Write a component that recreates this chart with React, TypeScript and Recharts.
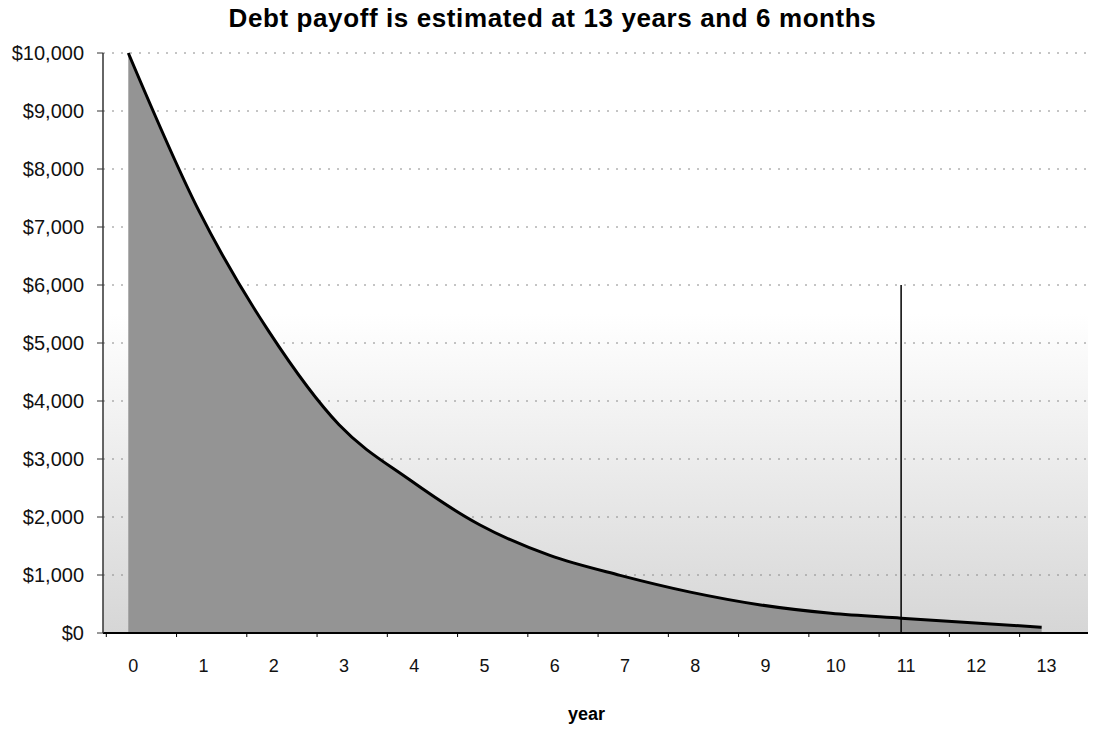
import { AreaChart, Area, XAxis, YAxis, CartesianGrid, ReferenceLine } from 'recharts'

const years = [0, 1, 2, 3, 4, 5, 6, 7, 8, 9, 10, 11, 12, 13]
const balances = [10000, 7290, 5200, 3590, 2645, 1866, 1337, 994, 705, 484, 340, 255, 175, 100]
const yTicks = [0, 1000, 2000, 3000, 4000, 5000, 6000, 7000, 8000, 9000, 10000]
const markerYear = 11
const markerTop = 6000

const data = years.map((year, i) => ({ year, balance: balances[i] }))

const font = '"Liberation Sans", Arial, sans-serif'

function YearTick({ x, y, payload }: any) {
  return (
    <g>
      <line x1={x - 22} x2={x - 22} y1={y} y2={y + 4} stroke="#000" strokeWidth={1} />
      <text x={x + 5} y={y + 39} textAnchor="middle" fontSize={18} fontFamily={font} fill="#111">
        {payload.value}
      </text>
    </g>
  )
}

const money = (v: number) => '$' + v.toLocaleString('en-US')

export default function App() {
  return (
    <div style={{ position: 'relative', width: 1089, height: 722 }}>
      <div
        style={{
          position: 'absolute',
          top: -3,
          left: 0,
          width: 1089,
          textAlign: 'center',
          fontFamily: font,
          fontWeight: 'bold',
          fontSize: 26,
          letterSpacing: 0.6,
          lineHeight: '26px',
          color: '#000',
        }}
      >
        Debt payoff is estimated at 13 years and 6 months
      </div>
      <AreaChart width={1089} height={722} data={data} margin={{ top: 45, right: 9, left: 0, bottom: 37 }}>
        <defs>
          <linearGradient id="plotBg" x1="0" y1="0" x2="0" y2="1">
            <stop offset="0%" stopColor="#ffffff" />
            <stop offset="45%" stopColor="#ffffff" />
            <stop offset="100%" stopColor="#d6d6d6" />
          </linearGradient>
        </defs>
        <CartesianGrid vertical={false} stroke="#8a8a8a" strokeDasharray="2 7" fill="url(#plotBg)" />
        <XAxis
          dataKey="year"
          type="number"
          domain={[-0.36, 13.66]}
          ticks={years}
          height={60}
          tickSize={0}
          tickMargin={0}
          tick={YearTick}
          axisLine={{ stroke: '#000', strokeWidth: 2 }}
          label={{ value: 'year', position: 'bottom', offset: 14, dx: -9, style: { fontFamily: font, fontWeight: 'bold', fontSize: 18, fill: '#000' } }}
        />
        <YAxis
          type="number"
          domain={[0, 10000]}
          ticks={yTicks}
          width={95}
          tickFormatter={money}
          tickSize={6}
          tickMargin={13}
          tick={{ fontSize: 20, fontFamily: font, fill: '#111' }}
          tickLine={{ stroke: '#333' }}
          axisLine={{ stroke: '#333', strokeWidth: 1.5 }}
          interval={0}
        />
        <Area
          type="monotone"
          dataKey="balance"
          stroke="#000"
          strokeWidth={3}
          fill="#949494"
          fillOpacity={1}
          dot={false}
          activeDot={false}
          isAnimationActive={false}
        />
        <ReferenceLine
          segment={[{ x: markerYear, y: 0 }, { x: markerYear, y: markerTop }]}
          stroke="#000"
          strokeWidth={1.5}
        />
      </AreaChart>
    </div>
  )
}
